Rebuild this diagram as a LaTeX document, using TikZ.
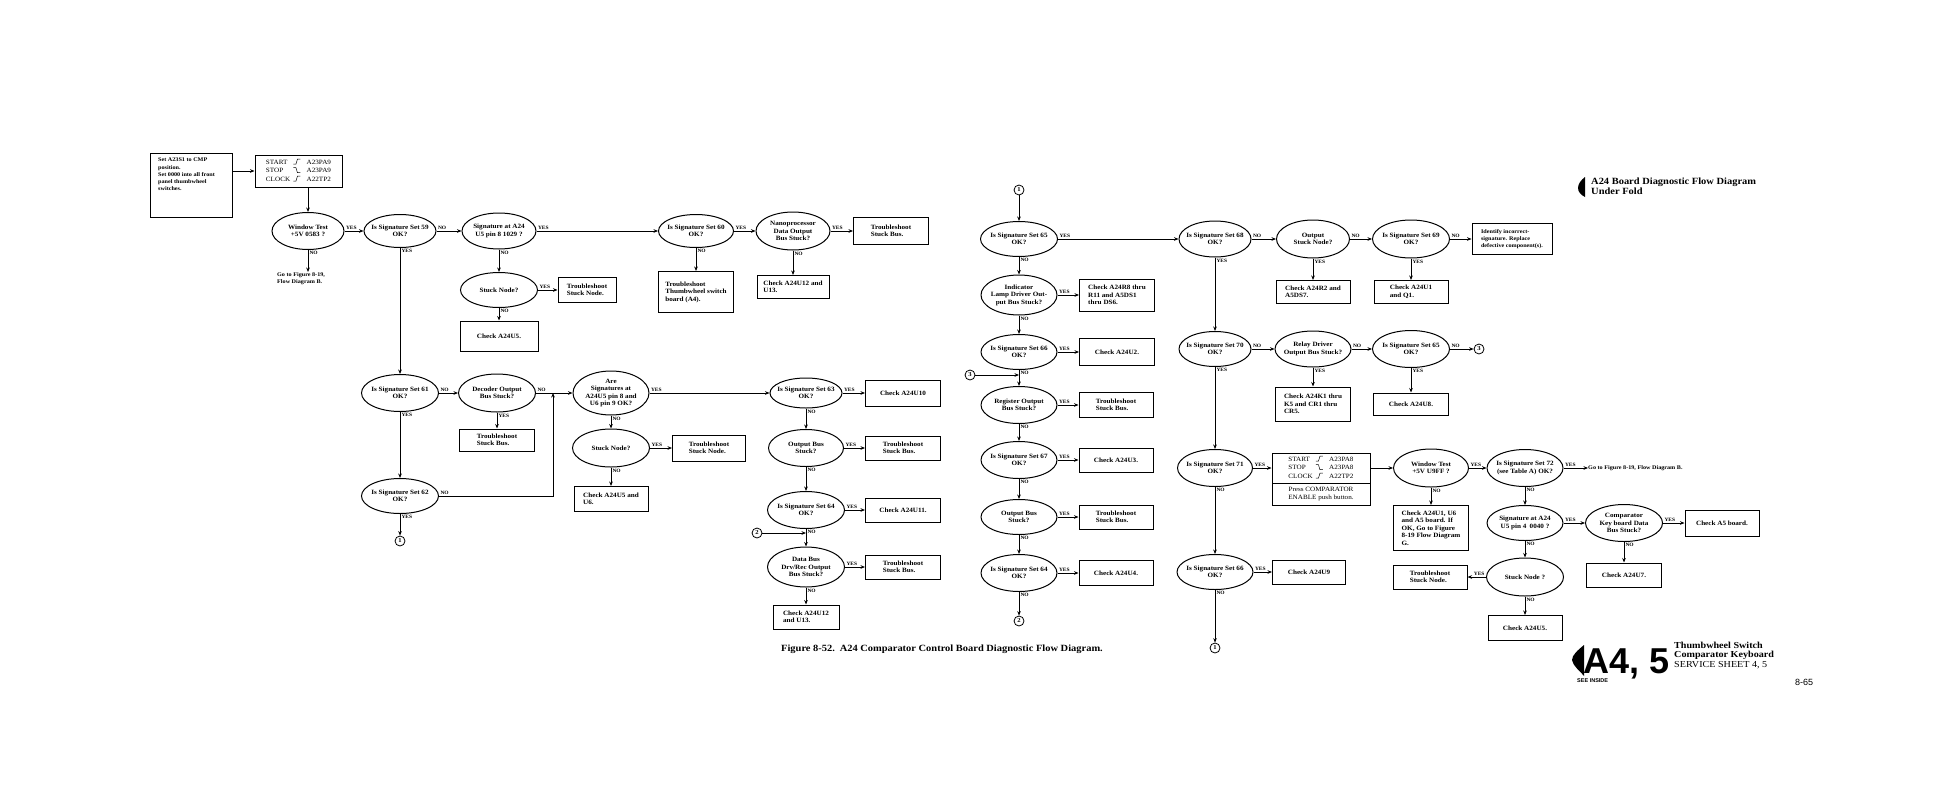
\documentclass[tikz,border=0pt]{standalone}
\usepackage{fontspec}
\setmainfont{Liberation Serif}[FakeStretch=1.1]
\newfontfamily\fcSans{Liberation Sans}
\usetikzlibrary{shapes.geometric,arrows.meta}
\newcommand\fcDec{\fontsize{6.5}{7.5}\selectfont\bfseries}
\newcommand\fcSmall{\fontsize{5.6}{7.2}\selectfont\bfseries}
\newcommand\fcLbl{\fontsize{5}{5.5}\selectfont\bfseries}
\newcommand\fcCirc{\fontsize{6}{6}\selectfont\bfseries}
\newcommand\fcReg{\fontsize{6.5}{8.5}\selectfont}
\newcommand\wRise{\tikz[x=1pt,y=1pt,line width=0.5pt,baseline=0pt]\draw (0,0)--(2.5,0)--(4,5)--(7,5);}
\newcommand\wFall{\tikz[x=1pt,y=1pt,line width=0.5pt,baseline=0pt]\draw (0,5)--(2.5,5)--(4,0)--(7,0);}
\begin{document}
\begin{tikzpicture}[x=1pt,y=-1pt,
  dec/.style 2 args={ellipse,draw,line width=1pt,inner xsep=-8pt,inner ysep=-2pt,minimum width=#1pt,minimum height=#2pt,align=center,font=\fcDec},
  bx/.style 2 args={rectangle,draw,line width=1pt,inner sep=0pt,minimum width=#1pt,minimum height=#2pt,align=left,font=\fcDec},
  bxs/.style 2 args={rectangle,draw,line width=1pt,inner sep=0pt,minimum width=#1pt,minimum height=#2pt,font=\fcReg},
  arr/.style={line width=1pt,-{Stealth[length=4.5pt,width=3.6pt]}},
  ln/.style={line width=1pt},
  yh/.style={anchor=south west,inner sep=1pt,font=\fcLbl,pos=0},
  yhl/.style={anchor=south east,inner sep=1pt,font=\fcLbl,pos=0},
  yv/.style={anchor=north west,inner sep=1pt,font=\fcLbl,pos=0},
  conn/.style={circle,draw,line width=0.8pt,minimum size=10pt,inner sep=0pt,font=\fcCirc},
  txt/.style={inner sep=0pt,align=left}]
\useasboundingbox (0,0) rectangle (1958,795);
\fill[white] (0,0) rectangle (1958,795);

% ---------- left section ----------
\node[draw,line width=1pt,minimum width=82pt,minimum height=64pt,inner sep=0pt] (setbox) at (191,185) {};
\node[txt,anchor=north west,font=\fcSmall] (settxt) at (158,158) {Set A23S1 to CMP\\position.\\Set 0000 into all front\\panel thumbwheel\\switches.};
\node[bxs={87}{32}] (startA) at (298.5,171) {\begin{tabular}{@{}l@{\hspace{3pt}}c@{\hspace{6pt}}l@{}}START&\wRise&A23PA9\\STOP&\wFall&A23PA9\\CLOCK&\wRise&A22TP2\end{tabular}};
\node[dec={72}{37}] (wt1) at (308,231) {Window Test\\+5V 0583 ?};
\node[txt,anchor=north west,font=\fcSmall] (gotoB1) at (277,272) {Go to Figure 8-19,\\Flow Diagram B.};
\node[dec={72}{33}] (s59) at (400,231) {Is Signature Set 59\\OK?};
\node[dec={74}{36}] (a24u5) at (499,231) {Signature at A24\\U5 pin 8 1029 ?};
\node[dec={77}{35}] (sn1) at (499,290) {Stuck Node?};
\node[bx={58}{25}] (tsn1) at (587,290) {Troubleshoot\\Stuck Node.};
\node[bx={78}{30}] (cka24u5a) at (499,336) {Check A24U5.};
\node[dec={75}{33}] (s60) at (696,231) {Is Signature Set 60\\OK?};
\node[bx={75}{41}] (thumb) at (696,292) {Troubleshoot\\Thumbwheel switch\\board (A4).};
\node[dec={74}{38}] (nano) at (793,231) {Nanoprocessor\\Data Output\\Bus Stuck?};
\node[bx={72}{23}] (cku12a) at (793,287) {Check A24U12 and\\U13.};
\node[bx={75}{27}] (tsb1) at (891,231) {Troubleshoot\\Stuck Bus.};

\node[dec={77}{37}] (s61) at (400,393) {Is Signature Set 61\\OK?};
\node[dec={77}{38}] (decb) at (497,393) {Decoder Output\\Bus Stuck?};
\node[bx={75}{22}] (tsb2) at (497,440) {Troubleshoot\\Stuck Bus.};
\node[dec={77}{35}] (s62) at (400,496) {Is Signature Set 62\\OK?};
\node[conn] (c1a) at (400,541) {1};
\coordinate (j1) at (553,393);
\node[dec={76}{44}] (are) at (611,393) {Are\\Signatures at\\A24U5 pin 8 and\\U6 pin 9 OK?};
\node[dec={77}{38}] (sn2) at (611,448) {Stuck Node?};
\node[bx={73}{26}] (tsn2) at (709,448) {Troubleshoot\\Stuck Node.};
\node[bx={74}{25}] (cku5u6) at (611,499) {Check A24U5 and\\U6.};

\node[dec={72}{30}] (s63) at (806,393) {Is Signature Set 63\\OK?};
\node[bx={75}{26}] (cku10) at (903,393) {Check A24U10};
\node[dec={75}{37}] (ob1) at (806,448) {Output Bus\\Stuck?};
\node[bx={75}{24}] (tsb3) at (903,448) {Troubleshoot\\Stuck Bus.};
\node[dec={77}{37}] (s64a) at (806,510) {Is Signature Set 64\\OK?};
\node[bx={75}{24}] (cku11) at (903,510) {Check A24U11.};
\node[conn] (c2a) at (757,533) {2};
\node[dec={77}{40}] (db) at (806,567) {Data Bus\\Drv/Rec Output\\Bus Stuck?};
\node[bx={75}{24}] (tsb4) at (903,567) {Troubleshoot\\Stuck Bus.};
\node[bx={66}{24}] (cku12b) at (806,617) {Check A24U12\\and U13.};

% ---------- third column ----------
\node[conn] (c1b) at (1019,190) {1};
\node[dec={77}{35}] (s65) at (1019,239) {Is Signature Set 65\\OK?};
\node[dec={76}{40}] (ind) at (1019,295) {Indicator\\Lamp Driver Out-\\put Bus Stuck?};
\node[bx={75}{32}] (ckr8) at (1117,295) {Check A24R8 thru\\R11 and A5DS1\\thru DS6.};
\node[dec={76}{35}] (s66) at (1019,352) {Is Signature Set 66\\OK?};
\node[bx={75}{27}] (cku2) at (1117,352) {Check A24U2.};
\node[conn] (c3a) at (970,375) {3};
\node[dec={76}{37}] (reg) at (1019,405) {Register Output\\Bus Stuck?};
\node[bx={74}{25}] (tsb5) at (1116,405) {Troubleshoot\\Stuck Bus.};
\node[dec={76}{37}] (s67) at (1019,460) {Is Signature Set 67\\OK?};
\node[bx={74}{24}] (cku3) at (1116,460) {Check A24U3.};
\node[dec={76}{35}] (ob2) at (1019,517) {Output Bus\\Stuck?};
\node[bx={74}{24}] (tsb6) at (1116,517) {Troubleshoot\\Stuck Bus.};
\node[dec={76}{37}] (s64b) at (1019,573) {Is Signature Set 64\\OK?};
\node[bx={74}{25}] (cku4) at (1116,573) {Check A24U4.};
\node[conn] (c2b) at (1019,621) {2};

% ---------- fourth section ----------
\node[dec={72}{36}] (s68) at (1215,239) {Is Signature Set 68\\OK?};
\node[dec={73}{38}] (osn) at (1313,239) {Output\\Stuck Node?};
\node[dec={77}{38}] (s69) at (1411,239) {Is Signature Set 69\\OK?};
\node[bx={80}{31},font=\fcSmall] (ident) at (1512,239) {Identify incorrect-\\signature. Replace\\defective component(s).};
\node[bx={74}{23}] (ckr2) at (1313,292) {Check A24R2 and\\A5DS7.};
\node[bx={74}{23}] (cku1) at (1411,292) {Check A24U1\\and Q1.};
\node[dec={72}{35}] (s70) at (1215,349) {Is Signature Set 70\\OK?};
\node[dec={76}{36}] (relay) at (1313,349) {Relay Driver\\Output Bus Stuck?};
\node[dec={77}{37}] (s65b) at (1411,349) {Is Signature Set 65\\OK?};
\node[conn] (c3b) at (1479,349) {3};
\node[bx={75}{34}] (ckk1) at (1313,404) {Check A24K1 thru\\K5 and CR1 thru\\CR5.};
\node[bx={75}{22}] (cku8) at (1411,404) {Check A24U8.};
\node[dec={75}{37}] (s71) at (1215,468) {Is Signature Set 71\\OK?};
\node[bxs={98}{30}] (start2a) at (1321,468) {\begin{tabular}{@{}l@{\hspace{3pt}}c@{\hspace{6pt}}l@{}}START&\wRise&A23PA8\\STOP&\wFall&A23PA8\\CLOCK&\wRise&A22TP2\end{tabular}};
\node[bxs={98}{22},align=center] (start2b) at (1321,494) {Press COMPARATOR\\ENABLE push button.};
\node[dec={75}{38}] (wt2) at (1431,468) {Window Test\\+5V U9FF ?};
\node[bx={75}{45}] (cka1u6) at (1431,528) {Check A24U1, U6\\and A5 board. If\\OK, Go to Figure\\8-19 Flow Diagram\\G.};
\node[dec={76}{37}] (s72) at (1525,468) {Is Signature Set 72\\(see Table A) OK?};
\node[txt,anchor=west,font=\fcSmall] (goto2) at (1588,468) {Go to Figure 8-19, Flow Diagram B.};
\node[dec={76}{35}] (a24b) at (1525,523) {Signature at A24\\U5 pin 4\enspace 0040 ?};
\node[dec={77}{37}] (comp) at (1624,523) {Comparator\\Key board Data\\Bus Stuck?};
\node[bx={74}{26}] (cka5) at (1722,523) {Check A5 board.};
\node[bx={75}{24}] (cku7) at (1624,575) {Check A24U7.};
\node[dec={77}{38}] (sn3) at (1525,577) {Stuck Node ?};
\node[bx={74}{24}] (tsn3) at (1430,577) {Troubleshoot\\Stuck Node.};
\node[bx={74}{25}] (cku5b) at (1525,628) {Check A24U5.};
\node[dec={76}{35}] (s66b) at (1215,572) {Is Signature Set 66\\OK?};
\node[bx={73}{24}] (cku9) at (1309,572) {Check A24U9};
\node[conn] (c1c) at (1215,648) {1};

% ---------- connectors: left ----------
\draw[arr] (setbox.east |- startA.west) -- (startA.west);
\draw[arr] (startA.south -| wt1) -- (wt1.north);
\draw[arr] (wt1) -- node[yh]{YES} (s59);
\draw[arr] (wt1) -- node[yv]{NO} (wt1.south |- gotoB1.north);
\draw[arr] (s59) -- node[yh]{NO} (a24u5);
\draw[arr] (s59) -- node[yv]{YES} (s61);
\draw[arr] (a24u5) -- node[yh]{YES} (s60);
\draw[arr] (a24u5) -- node[yv]{NO} (sn1);
\draw[arr] (sn1) -- node[yh]{YES} (tsn1);
\draw[arr] (sn1) -- node[yv]{NO} (cka24u5a);
\draw[arr] (s60) -- node[yh]{YES} (nano);
\draw[arr] (s60) -- node[yv]{NO} (thumb);
\draw[arr] (nano) -- node[yh]{YES} (tsb1);
\draw[arr] (nano) -- node[yv]{NO} (cku12a);

\draw[arr] (s61) -- node[yh]{NO} (decb);
\draw[arr] (decb) -- node[yv]{YES} (tsb2);
\draw[arr] (s61) -- node[yv]{YES} (s62);
\draw[arr] (s62) -- node[yv]{YES} (c1a);
\draw[ln] (decb) -- node[yh]{NO} (j1);
\draw[arr] (j1) -- (are);
\draw[arr] (s62) -- node[yh]{NO} (s62 -| j1) -- (j1);
\draw[arr] (are) -- node[yh]{YES} (s63);
\draw[arr] (are) -- node[yv]{NO} (sn2);
\draw[arr] (sn2) -- node[yh]{YES} (tsn2);
\draw[arr] (sn2) -- node[yv]{NO} (cku5u6);
\draw[arr] (s63) -- node[yh]{YES} (cku10);
\draw[arr] (s63) -- node[yv]{NO} (ob1);
\draw[arr] (ob1) -- node[yh]{YES} (tsb3);
\draw[arr] (ob1) -- node[yv]{NO} (s64a);
\draw[arr] (s64a) -- node[yh]{YES} (cku11);
\draw[arr] (s64a) -- node[yv]{NO} (db);
\draw[arr] (c2a) -- (c2a -| db);
\draw[arr] (db) -- node[yh]{YES} (tsb4);
\draw[arr] (db) -- node[yv]{NO} (cku12b);

% ---------- connectors: third column ----------
\draw[arr] (c1b) -- (s65);
\draw[arr] (s65) -- node[yv]{NO} (ind);
\draw[arr] (ind) -- node[yh]{YES} (ckr8);
\draw[arr] (ind) -- node[yv]{NO} (s66);
\draw[arr] (s66) -- node[yh]{YES} (cku2);
\draw[arr] (s66) -- node[yv]{NO} (reg);
\draw[arr] (c3a) -- (c3a -| reg);
\draw[arr] (reg) -- node[yh]{YES} (tsb5);
\draw[arr] (reg) -- node[yv]{NO} (s67);
\draw[arr] (s67) -- node[yh]{YES} (cku3);
\draw[arr] (s67) -- node[yv]{NO} (ob2);
\draw[arr] (ob2) -- node[yh]{YES} (tsb6);
\draw[arr] (ob2) -- node[yv]{NO} (s64b);
\draw[arr] (s64b) -- node[yh]{YES} (cku4);
\draw[arr] (s64b) -- node[yv]{NO} (c2b);

% ---------- connectors: fourth section ----------
\draw[arr] (s65) -- node[yh]{YES} (s68);
\draw[arr] (s68) -- node[yh]{NO} (osn);
\draw[arr] (osn) -- node[yh]{NO} (s69);
\draw[arr] (s69) -- node[yh]{NO} (ident);
\draw[arr] (osn) -- node[yv]{YES} (ckr2);
\draw[arr] (s69) -- node[yv]{YES} (cku1);
\draw[arr] (s68) -- node[yv]{YES} (s70);
\draw[arr] (s70) -- node[yh]{NO} (relay);
\draw[arr] (relay) -- node[yh]{NO} (s65b);
\draw[arr] (s65b) -- node[yh]{NO} (c3b);
\draw[arr] (relay) -- node[yv]{YES} (ckk1);
\draw[arr] (s65b) -- node[yv]{YES} (cku8);
\draw[arr] (s70) -- node[yv]{YES} (s71);
\draw[arr] (s71) -- node[yh]{YES} (start2a);
\draw[arr] (start2a) -- (wt2);
\draw[arr] (wt2) -- node[yh]{YES} (s72);
\draw[arr] (wt2) -- node[yv]{NO} (cka1u6);
\draw[arr] (s72) -- node[yh]{YES} (goto2);
\draw[arr] (s72) -- node[yv]{NO} (a24b);
\draw[arr] (a24b) -- node[yh]{YES} (comp);
\draw[arr] (comp) -- node[yh]{YES} (cka5);
\draw[arr] (comp) -- node[yv]{NO} (cku7);
\draw[arr] (a24b) -- node[yv]{NO} (sn3);
\draw[arr] (sn3) -- node[yhl]{YES} (tsn3);
\draw[arr] (sn3) -- node[yv]{NO} (cku5b);
\draw[arr] (s71) -- node[yv]{NO} (s66b);
\draw[arr] (s66b) -- node[yh]{YES} (cku9);
\draw[arr] (s66b) -- node[yv]{NO} (c1c);

% ---------- titles ----------
\node[inner sep=0pt,font=\fontsize{9.5}{11}\selectfont\bfseries] (caption) at (942,649) {Figure 8-52.\enspace A24 Comparator Control Board Diagnostic Flow Diagram.};
\fill (1585,177) .. controls (1581,180) and (1578,184) .. (1578,188) .. controls (1578,192) and (1581,195) .. (1585,197) -- cycle;
\node[txt,anchor=north west,font=\fontsize{9.5}{9.5}\selectfont\bfseries] (topnote) at (1591,178) {A24 Board Diagnostic Flow Diagram\\Under Fold};
\fill (1584,645) .. controls (1578,650) and (1572,655) .. (1572,660) .. controls (1573,666) and (1579,670) .. (1584,676) -- cycle;
\node[inner sep=0pt,anchor=base west,font=\fcSans\fontsize{36}{36}\selectfont\bfseries] (a45) at (1583,673) {A4, 5};
\node[inner sep=0pt,anchor=base west,font=\fontsize{9.2}{9.2}\selectfont\bfseries] (tw1) at (1674,648) {Thumbwheel Switch};
\node[inner sep=0pt,anchor=base west,font=\fontsize{9.2}{9.2}\selectfont\bfseries] (tw2) at (1674,657.5) {Comparator Keyboard};
\node[inner sep=0pt,anchor=base west,font=\fontsize{9.2}{9.2}\selectfont] (tw3) at (1674,667) {SERVICE SHEET 4, 5};
\node[inner sep=0pt,anchor=west,font=\fcSans\fontsize{5.5}{6}\selectfont\bfseries] (seeinside) at (1577,681) {SEE INSIDE};
\node[inner sep=0pt,anchor=west,font=\fcSans\fontsize{9}{9}\selectfont] (pageno) at (1795,682) {8-65};
\end{tikzpicture}
\end{document}
